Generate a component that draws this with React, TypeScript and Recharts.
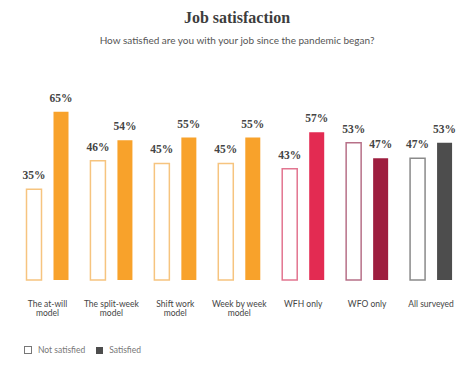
import React from 'react';
import { BarChart, Bar, XAxis, YAxis, Cell, LabelList, ReferenceLine } from 'recharts';

const categories = [
  'The at-will model',
  'The split-week model',
  'Shift work model',
  'Week by week model',
  'WFH only',
  'WFO only',
  'All surveyed',
];
const tickLabels = [
  ['The at-will', 'model'],
  ['The split-week', 'model'],
  ['Shift work', 'model'],
  ['Week by week', 'model'],
  ['WFH only'],
  ['WFO only'],
  ['All surveyed'],
];
const notSatisfied = [35, 46, 45, 45, 43, 53, 47];
const satisfied = [65, 54, 55, 55, 57, 47, 53];

const fillColors = ['#f8a22b', '#f8a22b', '#f8a22b', '#f8a22b', '#e32b52', '#9e1e3f', '#4d4d4d'];
const outlineColors = ['#f6c47f', '#f6c47f', '#f6c47f', '#f6c47f', '#e27590', '#b77088', '#8a8a8a'];

const data = categories.map((name, i) => ({
  name,
  idx: i,
  notSatisfied: notSatisfied[i],
  satisfied: satisfied[i],
}));

const sans = 'Lato, "Open Sans", sans-serif';
const serif = '"Liberation Serif", serif';

const Tick = ({ x, y, payload }: any) => {
  const lines = tickLabels[payload.index] || [payload.value];
  return (
    <g>
      {lines.map((l: string, k: number) => (
        <text key={k} x={x} y={y + 19 + k * 9} textAnchor="middle" fontSize={8.5} fontFamily={sans} fill="#444">
          {l}
        </text>
      ))}
    </g>
  );
};

const pct = (v: any) => `${v}%`;

export default function App() {
  return (
    <div style={{ position: 'absolute', left: 0, top: 0, width: 474, height: 367, background: '#fff' }}>
      <div style={{ position: 'absolute', top: 9, width: 474, textAlign: 'center', fontFamily: serif, fontWeight: 700, fontSize: 16, color: '#3d3d3d' }}>
        Job satisfaction
      </div>
      <div style={{ position: 'absolute', top: 34, width: 474, textAlign: 'center', fontFamily: sans, fontSize: 10, color: '#555' }}>
        How satisfied are you with your job since the pandemic began?
      </div>
      <BarChart
        width={474}
        height={367}
        data={data}
        margin={{ top: 21, right: 11, left: 15.5, bottom: 47 }}
        barSize={15}
        barGap={12}
      >
        <XAxis dataKey="name" axisLine={false} tickLine={false} tick={<Tick />} interval={0} height={40} />
        <XAxis xAxisId="base" type="number" domain={[0, 7]} hide />
        <YAxis domain={[0, 100]} hide />
        <ReferenceLine
          xAxisId="base"
          segment={[{ x: 0.17, y: 0 }, { x: 6.83, y: 0 }]}
          stroke="#bbb"
          strokeWidth={1}
        />
        <Bar dataKey="notSatisfied" fill="#fff" strokeWidth={1.5} isAnimationActive={false}>
          {data.map((d, i) => (
            <Cell key={i} fill="#fff" stroke={outlineColors[i]} />
          ))}
          <LabelList dataKey="notSatisfied" position="top" offset={10} formatter={pct} fill="#444" fontSize={11.5} fontFamily={serif} fontWeight={700} />
        </Bar>
        <Bar dataKey="satisfied" isAnimationActive={false}>
          {data.map((d, i) => (
            <Cell key={i} fill={fillColors[i]} />
          ))}
          <LabelList dataKey="satisfied" position="top" offset={10} formatter={pct} fill="#444" fontSize={11.5} fontFamily={serif} fontWeight={700} />
        </Bar>
      </BarChart>
      <div style={{ position: 'absolute', top: 345, left: 24, display: 'flex', alignItems: 'center', fontFamily: sans, fontSize: 8.5, color: '#777' }}>
        <span style={{ width: 6, height: 6, border: '1px solid #777', display: 'inline-block', marginRight: 6 }} />
        <span style={{ marginRight: 11 }}>Not satisfied</span>
        <span style={{ width: 7, height: 7, background: '#4d4d4d', display: 'inline-block', marginRight: 6 }} />
        <span>Satisfied</span>
      </div>
    </div>
  );
}
